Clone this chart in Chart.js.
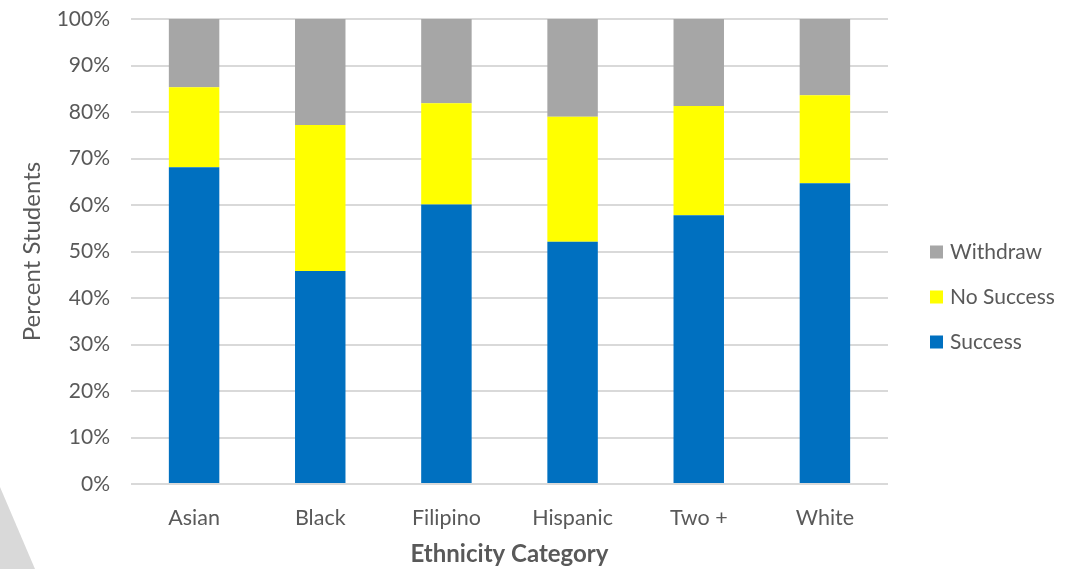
<!DOCTYPE html>
<html>
<head>
<meta charset="utf-8">
<script src="https://cdn.jsdelivr.net/npm/chart.js@4/dist/chart.umd.min.js"></script>
<style>
  html, body { margin: 0; padding: 0; background: #fff; }
  #wrap { position: relative; width: 1084px; height: 569px; overflow: hidden; }
  /* slide decoration peeking in at the bottom-left corner */
  #corner {
    position: absolute; left: 0; top: 0; width: 1084px; height: 569px;
    background: #d9d9d9;
    clip-path: polygon(0px 487px, 35px 569px, 0px 569px);
  }
  canvas { position: absolute; left: 0; top: 0; }
</style>
</head>
<body>
<div id="wrap">
  <div id="corner"></div>
  <canvas id="chart" width="1084" height="569"></canvas>
</div>
<script>
// Course outcomes by ethnicity, percent of students (each bar sums to 100)
const categories = ['Asian', 'Black', 'Filipino', 'Hispanic', 'Two +', 'White'];
const success = [68.1, 45.8, 60.1, 52.1, 57.8, 64.7];
const noSuccess = [17.2, 31.4, 21.8, 26.9, 23.5, 18.9];
const withdraw = [14.7, 22.8, 18.1, 21.0, 18.7, 16.4];
const yTicks = [0, 10, 20, 30, 40, 50, 60, 70, 80, 90, 100];

const FONT = 'Lato, "Open Sans", sans-serif';
const TEXT = '#595959';

// Legend stacked on the right, top-to-bottom in reverse dataset order
const sideLegend = {
  id: 'sideLegend',
  afterDraw(chart) {
    const { ctx, chartArea } = chart;
    const sets = chart.data.datasets.slice().reverse();
    const x = chartArea.right + 42;
    const midY = 297;
    const step = 45;
    ctx.save();
    ctx.font = `21px ${FONT}`;
    ctx.textBaseline = 'middle';
    sets.forEach((ds, i) => {
      const y = midY + (i - (sets.length - 1) / 2) * step;
      ctx.fillStyle = ds.backgroundColor;
      ctx.fillRect(x, y - 6.5, 13, 13);
      ctx.fillStyle = TEXT;
      ctx.fillText(ds.label, x + 20, y);
    });
    ctx.restore();
  },
};

new Chart(document.getElementById('chart').getContext('2d'), {
  type: 'bar',
  data: {
    labels: categories,
    datasets: [
      { label: 'Success', data: success, backgroundColor: '#0070C0' },
      { label: 'No Success', data: noSuccess, backgroundColor: '#FFFF00' },
      { label: 'Withdraw', data: withdraw, backgroundColor: '#A6A6A6' },
    ],
  },
  options: {
    responsive: false,
    animation: false,
    events: [],
    layout: { padding: { top: 0, right: 196, left: 0, bottom: 0 } },
    datasets: { bar: { categoryPercentage: 1, barPercentage: 0.4, borderWidth: 0 } },
    scales: {
      x: {
        stacked: true,
        grid: { display: false, drawTicks: false },
        border: { display: false },
        ticks: { color: TEXT, font: { family: FONT, size: 21.5 }, padding: 21 },
        title: {
          display: true,
          text: 'Ethnicity Category',
          color: TEXT,
          font: { family: FONT, size: 24, weight: 'bold' },
          padding: { top: 12, bottom: 0 },
        },
        afterFit: (scale) => { scale.height = 85; },
      },
      y: {
        stacked: true,
        min: 0,
        max: 100,
        afterBuildTicks: (scale) => { scale.ticks = yTicks.map((v) => ({ value: v })); },
        grid: { color: '#d9d9d9', lineWidth: 2, drawTicks: false },
        border: { display: false },
        ticks: { color: TEXT, font: { family: FONT, size: 21 }, padding: 21, callback: (v) => `${v}%` },
        title: {
          display: true,
          text: 'Percent Students',
          color: TEXT,
          font: { family: FONT, size: 24 },
          padding: { top: 18, bottom: 0 },
        },
        afterFit: (scale) => {
          scale.width = 131;
          // keep the 100% line close to the top edge
          scale.paddingTop = 19;
        },
      },
    },
    plugins: {
      legend: { display: false },
      tooltip: { enabled: false },
    },
  },
  plugins: [sideLegend],
});
</script>
</body>
</html>
